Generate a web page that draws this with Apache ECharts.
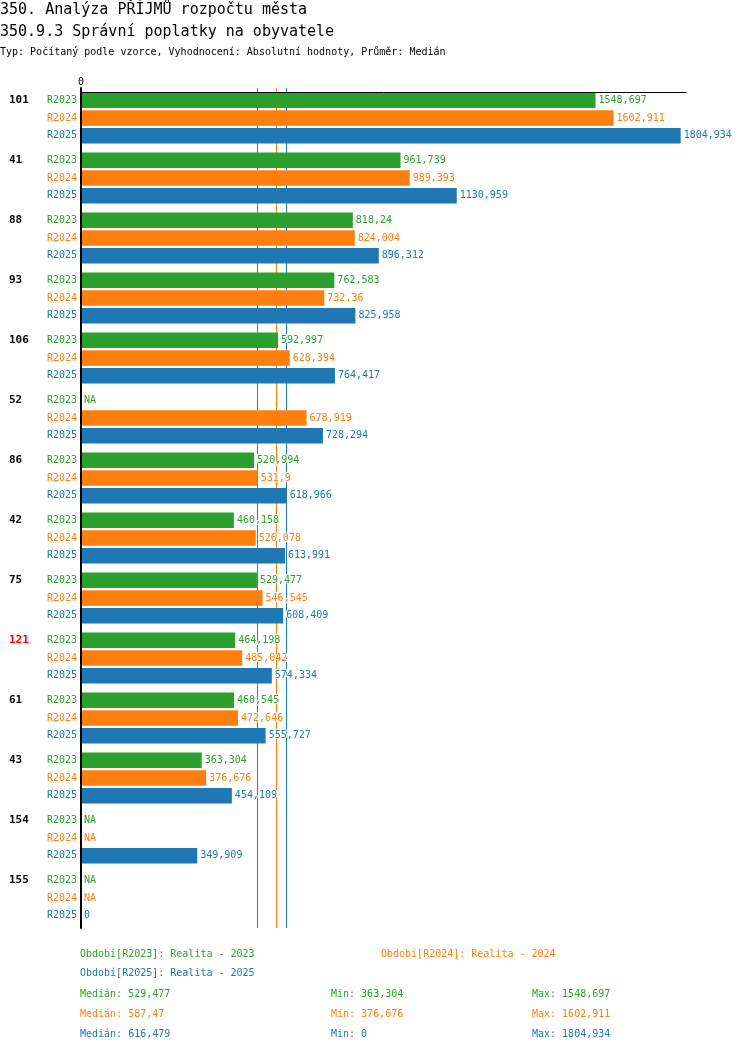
<!DOCTYPE html>
<html>
<head>
<meta charset="utf-8">
<script src="https://cdn.jsdelivr.net/npm/echarts@6/dist/echarts.min.js"></script>
<style>
html,body{margin:0;padding:0;background:#fff;}
#chart{width:750px;height:1052px;}
</style>
</head>
<body>
<div id="chart"></div>
<script>
// ---- data ----
const titleLine1 = '350. Analýza PŘÍJMŮ rozpočtu města';
const titleLine2 = '350.9.3 Správní poplatky na obyvatele';
const titleLine3 = 'Typ: Počítaný podle vzorce, Vyhodnocení: Absolutní hodnoty, Průměr: Medián';
const groups = ['101','41','88','93','106','52','86','42','75','121','61','43','154','155'];
const highlightGroups = ['121'];
const seriesNames = ['R2023','R2024','R2025'];
const periodLabels = ['Realita - 2023','Realita - 2024','Realita - 2025'];
const r2023 = [1548.697, 961.739, 818.24, 762.583, 592.997, null, 520.994, 460.158, 529.477, 464.198, 460.545, 363.304, null, null];
const r2024 = [1602.911, 989.393, 824.004, 732.36, 628.394, 678.919, 531.9, 526.078, 546.545, 485.042, 472.646, 376.676, null, null];
const r2025 = [1804.934, 1130.959, 896.312, 825.958, 764.417, 728.294, 618.966, 613.991, 608.409, 574.334, 555.727, 454.109, 349.909, 0];
const xTicks = [0];

// ---- style ----
const colors = ['#2ca02c','#ff7f0e','#1f77b4'];
const MONO = '"DejaVu Sans Mono", "Liberation Mono", monospace';
const seriesData = [r2023, r2024, r2025];
const xMax = 1821;
const rowH = 17.67;

function fmt(v){
  const r = Math.round(v*1000 + 1e-7)/1000;
  return String(r).replace('.', ',');
}
function stats(arr){
  const vals = arr.filter(v => v !== null).slice().sort((a,b)=>a-b);
  const n = vals.length;
  const med = n % 2 ? vals[(n-1)/2] : (vals[n/2-1] + vals[n/2]) / 2;
  return {median: med, min: vals[0], max: vals[n-1]};
}
const st = seriesData.map(stats);

const rich = {
  g: {fontFamily: MONO, fontSize: 11, fontWeight: 'bold', color: '#000', width: 37, align: 'left', lineHeight: rowH},
  gr: {fontFamily: MONO, fontSize: 11, fontWeight: 'bold', color: '#ff0000', width: 37, align: 'left', lineHeight: rowH},
  e: {fontFamily: MONO, fontSize: 10, width: 37, lineHeight: rowH}
};
seriesNames.forEach((n,i) => {
  rich['s'+i] = {fontFamily: MONO, fontSize: 10, color: colors[i], width: 31, align: 'right', lineHeight: rowH};
});

const series = seriesData.map((arr, i) => ({
  name: seriesNames[i],
  type: 'bar',
  z: 3,
  barWidth: 15.5,
  barGap: '14%',
  itemStyle: {color: colors[i]},
  data: arr.map(v => v === null ? {value: 0, na: true} : v),
  label: {
    show: true, position: 'right', distance: 3,
    fontFamily: MONO, fontSize: 10, color: colors[i],
    textBorderColor: '#fff', textBorderWidth: 2,
    formatter: p => (p.data && p.data.na) ? 'NA' : fmt(p.value)
  }
}));

// median lines on a lower layer (behind bars and labels)
series.push({
  name: 'median',
  type: 'line',
  z: 1,
  data: [],
  silent: true,
  markLine: {
    z: 1,
    silent: true, symbol: 'none', animation: false,
    label: {show: false},
    data: st.map((s, i) => ({xAxis: s.median, lineStyle: {color: colors[i], width: 1, type: 'solid'}}))
  }
});

const graphic = [];
const legendPos = [[80, 954], [381, 954], [80, 973]];
seriesNames.forEach((n, i) => {
  graphic.push({type: 'text', x: legendPos[i][0], y: legendPos[i][1],
    style: {text: 'Období[' + n + ']: ' + periodLabels[i], fill: colors[i], font: '10px ' + MONO, verticalAlign: 'middle'}});
});
const statY = [994, 1014, 1034];
seriesNames.forEach((n, i) => {
  graphic.push({type: 'text', x: 80, y: statY[i],
    style: {text: 'Medián: ' + fmt(st[i].median), fill: colors[i], font: '10px ' + MONO, verticalAlign: 'middle'}});
  graphic.push({type: 'text', x: 331, y: statY[i],
    style: {text: 'Min: ' + fmt(st[i].min), fill: colors[i], font: '10px ' + MONO, verticalAlign: 'middle'}});
  graphic.push({type: 'text', x: 532, y: statY[i],
    style: {text: 'Max: ' + fmt(st[i].max), fill: colors[i], font: '10px ' + MONO, verticalAlign: 'middle'}});
});

const chart = echarts.init(document.getElementById('chart'));
chart.setOption({
  animation: false,
  backgroundColor: '#fff',
  title: [
    {text: titleLine1, left: 0, top: 3, padding: 0, textStyle: {fontFamily: MONO, fontSize: 15, fontWeight: 'normal', color: '#000'}},
    {text: titleLine2, left: 0, top: 25, padding: 0, textStyle: {fontFamily: MONO, fontSize: 15, fontWeight: 'normal', color: '#000'}},
    {text: titleLine3, left: 0, top: 47, padding: 0, textStyle: {fontFamily: MONO, fontSize: 10, fontWeight: 'normal', color: '#000'}}
  ],
  grid: {left: 81, top: 88, width: 605, height: 840},
  xAxis: {
    type: 'value', position: 'top', min: 0, max: xMax, offset: -4,
    z: 10,
    axisLine: {show: true, onZero: false, lineStyle: {color: '#000', width: 1}},
    axisTick: {show: false},
    splitLine: {show: false},
    axisLabel: {
      show: true, margin: 5, fontFamily: MONO, fontSize: 10, color: '#000',
      showMaxLabel: false,
      formatter: v => xTicks.indexOf(v) >= 0 ? String(v) : ''
    }
  },
  yAxis: {
    type: 'category', inverse: true, data: groups,
    axisLine: {show: true, lineStyle: {color: '#000', width: 2}},
    axisTick: {show: false},
    splitLine: {show: false},
    z: 10,
    axisLabel: {
      interval: 0, margin: 4,
      formatter: (v) => {
        const gt = highlightGroups.indexOf(v) >= 0 ? 'gr' : 'g';
        return '{' + gt + '|' + v + '}{s0|' + seriesNames[0] + '}\n{e| }{s1|' + seriesNames[1] + '}\n{e| }{s2|' + seriesNames[2] + '}';
      },
      rich: rich
    }
  },
  series: series,
  graphic: graphic
});
</script>
</body>
</html>
